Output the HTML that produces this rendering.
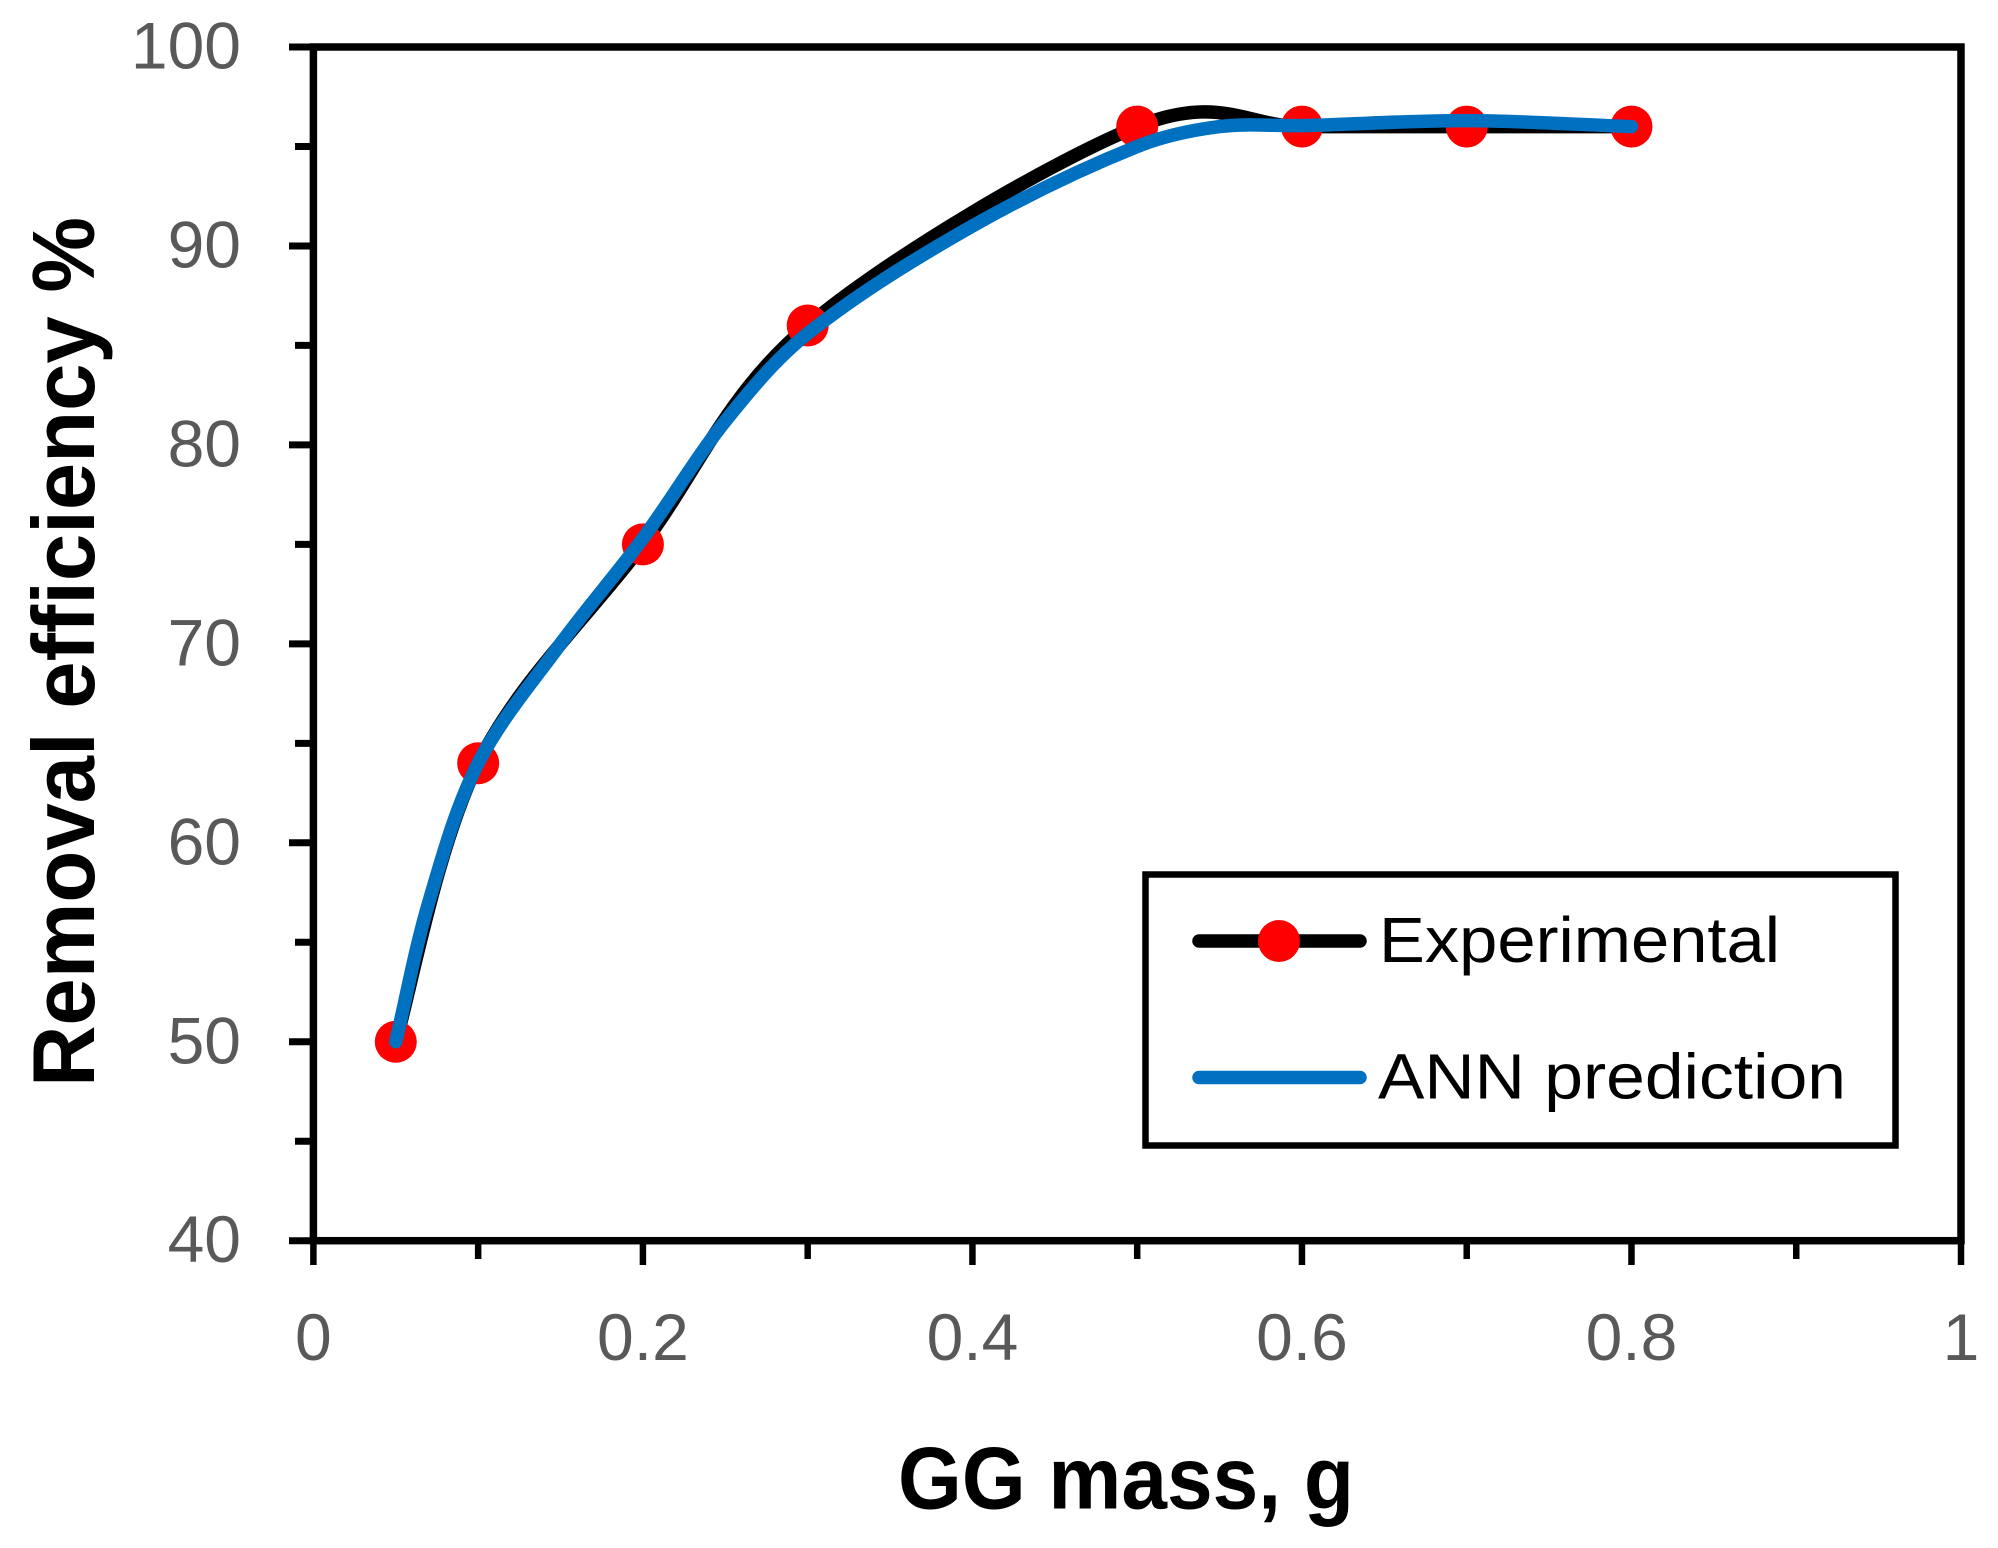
<!DOCTYPE html>
<html lang="en">
<head>
<meta charset="utf-8">
<title>Removal efficiency vs GG mass</title>
<style>
  html, body { margin: 0; padding: 0; background: #ffffff; }
  svg { display: block; }
  text { font-family: "Liberation Sans", sans-serif; }
</style>
</head>
<body>
<svg id="chart" xmlns="http://www.w3.org/2000/svg" width="1998" height="1548" viewBox="0 0 1998 1548">
  <rect x="0" y="0" width="1998" height="1548" fill="#ffffff"/>
  <g id="ticks"></g>
  <rect x="313.4" y="47" width="1647.6" height="1193.7" fill="none" stroke="#000" stroke-width="7.5"/>
  <g id="tick-labels"></g>
  <g id="series"></g>
  <text x="898" y="1508.5" font-size="88" font-weight="bold" fill="#000" textLength="456" lengthAdjust="spacingAndGlyphs">GG mass, g</text>
  <text transform="translate(94,1087) rotate(-90)" x="0" y="0" font-size="88" font-weight="bold" fill="#000" textLength="870" lengthAdjust="spacingAndGlyphs">Removal efficiency %</text>
  <g>
    <rect x="1145.5" y="874.5" width="750" height="271" fill="#fff" stroke="#000" stroke-width="6.5"/>
    <line x1="1199" y1="941" x2="1360" y2="941" stroke="#000" stroke-width="13.5" stroke-linecap="round"/>
    <circle cx="1279" cy="941" r="21" fill="#ff0000"/>
    <text x="1379" y="962" font-size="64" fill="#000" textLength="401" lengthAdjust="spacingAndGlyphs">Experimental</text>
    <line x1="1199" y1="1077.5" x2="1360" y2="1077.5" stroke="#0070c0" stroke-width="13.5" stroke-linecap="round"/>
    <text x="1378" y="1098.5" font-size="64" fill="#000" textLength="468" lengthAdjust="spacingAndGlyphs">ANN prediction</text>
  </g>
</svg>
<script>
const xValues = [0.05, 0.1, 0.2, 0.3, 0.5, 0.6, 0.7, 0.8];
const experimental = [50, 64, 75, 86, 96, 96, 96, 96];
const annX = [0.05, 0.07, 0.1, 0.15, 0.2, 0.25, 0.3, 0.4, 0.5, 0.55, 0.6, 0.7, 0.8];
const annPrediction = [50, 57, 64, 70, 75.3, 81.2, 85.6, 91, 95, 96, 96.05, 96.3, 96];
const xTickValues = [0, 0.1, 0.2, 0.3, 0.4, 0.5, 0.6, 0.7, 0.8, 0.9, 1];
const xTickLabels = ["0", "", "0.2", "", "0.4", "", "0.6", "", "0.8", "", "1"];
const yTickValues = [40, 45, 50, 55, 60, 65, 70, 75, 80, 85, 90, 95, 100];
const yTickLabels = ["40", "", "50", "", "60", "", "70", "", "80", "", "90", "", "100"];

const NS = 'http://www.w3.org/2000/svg';
const xScale = v => 313.4 + v * 1647.6;
const yScale = v => 1240.7 - (v - 40) * (1193.7 / 60);

function smoothPath(xs, ys) {
  const p = xs.map((x, i) => [xScale(x), yScale(ys[i])]);
  let d = 'M' + p[0][0] + ' ' + p[0][1];
  for (let i = 0; i < p.length - 1; i++) {
    const a = p[Math.max(i - 1, 0)], b = p[i], c = p[i + 1], e = p[Math.min(i + 2, p.length - 1)];
    d += ' C' + (b[0] + (c[0] - a[0]) / 6) + ' ' + (b[1] + (c[1] - a[1]) / 6) + ' ' +
         (c[0] - (e[0] - b[0]) / 6) + ' ' + (c[1] - (e[1] - b[1]) / 6) + ' ' + c[0] + ' ' + c[1];
  }
  return d;
}

/* Chord-proportional smoothing for unevenly spaced readings. */
function chordPath(xs, ys) {
  const p = xs.map((x, i) => [xScale(x), yScale(ys[i])]);
  const unit = (u, v) => {
    const dx = v[0] - u[0], dy = v[1] - u[1], n = Math.hypot(dx, dy);
    return [dx / n, dy / n];
  };
  let d = 'M' + p[0][0] + ' ' + p[0][1];
  for (let i = 0; i < p.length - 1; i++) {
    const a = p[Math.max(i - 1, 0)], b = p[i], c = p[i + 1], e = p[Math.min(i + 2, p.length - 1)];
    const len = Math.hypot(c[0] - b[0], c[1] - b[1]) / 3;
    const t1 = unit(a, c), t2 = unit(b, e);
    d += ' C' + (b[0] + t1[0] * len) + ' ' + (b[1] + t1[1] * len) + ' ' +
         (c[0] - t2[0] * len) + ' ' + (c[1] - t2[1] * len) + ' ' + c[0] + ' ' + c[1];
  }
  return d;
}

const ticksG = document.getElementById('ticks');
const labelsG = document.getElementById('tick-labels');
const seriesG = document.getElementById('series');

xTickValues.forEach((v, i) => {
  const major = xTickLabels[i] !== '';
  const t = document.createElementNS(NS, 'line');
  
  
  t.setAttribute('x1', xScale(v));
  t.setAttribute('x2', xScale(v));
  t.setAttribute('y1', 1240);
  t.setAttribute('y2', major ? 1265 : 1259);
  t.setAttribute('stroke', '#000');
  t.setAttribute('stroke-width', 6.5);
  ticksG.appendChild(t);
  if (major) {
    const l = document.createElementNS(NS, 'text');
    
    
    l.setAttribute('x', xScale(v));
    l.setAttribute('y', 1360);
    l.setAttribute('text-anchor', 'middle');
    l.setAttribute('font-size', 66);
    l.setAttribute('fill', '#595959');
    l.textContent = xTickLabels[i];
    labelsG.appendChild(l);
  }
});

yTickValues.forEach((v, i) => {
  const major = yTickLabels[i] !== '';
  const t = document.createElementNS(NS, 'line');
  
  
  t.setAttribute('x1', major ? 289 : 295);
  t.setAttribute('x2', 314);
  t.setAttribute('y1', yScale(v));
  t.setAttribute('y2', yScale(v));
  t.setAttribute('stroke', '#000');
  t.setAttribute('stroke-width', 7);
  ticksG.appendChild(t);
  if (major) {
    const l = document.createElementNS(NS, 'text');
    
    
    l.setAttribute('x', 241);
    l.setAttribute('y', yScale(v) + 21.5);
    l.setAttribute('text-anchor', 'end');
    l.setAttribute('font-size', 66);
    l.setAttribute('fill', '#595959');
    l.textContent = yTickLabels[i];
    labelsG.appendChild(l);
  }
});

const blackLine = document.createElementNS(NS, 'path');


blackLine.setAttribute('d', smoothPath(xValues, experimental));
blackLine.setAttribute('fill', 'none');
blackLine.setAttribute('stroke', '#000');
blackLine.setAttribute('stroke-width', 13.5);
blackLine.setAttribute('stroke-linecap', 'round');
seriesG.appendChild(blackLine);

xValues.forEach((x, i) => {
  const c = document.createElementNS(NS, 'circle');
  
  
  c.setAttribute('cx', xScale(x));
  c.setAttribute('cy', yScale(experimental[i]));
  c.setAttribute('r', 21);
  c.setAttribute('fill', '#ff0000');
  seriesG.appendChild(c);
});

const blueLine = document.createElementNS(NS, 'path');


blueLine.setAttribute('d', chordPath(annX, annPrediction));
blueLine.setAttribute('fill', 'none');
blueLine.setAttribute('stroke', '#0070c0');
blueLine.setAttribute('stroke-width', 13.5);
blueLine.setAttribute('stroke-linecap', 'round');
seriesG.appendChild(blueLine);
</script>
</body>
</html>
